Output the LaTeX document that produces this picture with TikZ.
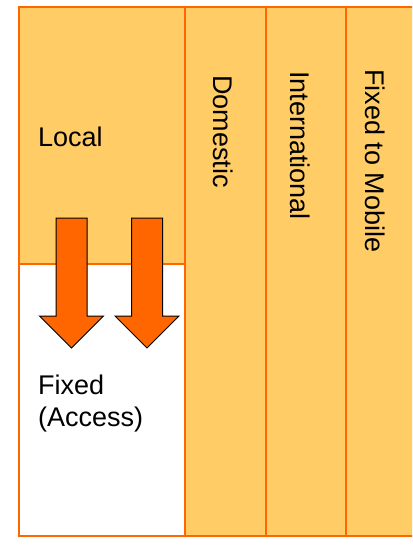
\documentclass[tikz,border=0pt]{standalone}
\usepackage{fontspec}
\setmainfont{Liberation Sans}
\usetikzlibrary{positioning}
\definecolor{Pale}{HTML}{FFCC66}
\definecolor{Edge}{HTML}{FF6600}
\definecolor{Push}{HTML}{FF6600}
\tikzset{
  cell/.style={draw=Edge,line width=2pt},
  lbl/.style={inner sep=0pt,font=\fontsize{27}{32}\selectfont},
  side/.style={lbl,rotate=-90,anchor=base west},
  push/.style={draw=black,fill=Push,line width=1pt,line join=miter}
}
\begin{document}
\begin{tikzpicture}[x=1pt,y=-1pt]
        \useasboundingbox(0,0)rectangle(412,548);
        \clip(0,0)rectangle(412,548);
        \draw[cell,fill=Pale](19,7)rectangle(185,264);
        \draw[cell,fill=white](19,264)rectangle(185,536);
        \draw[cell,fill=Pale](185,7)rectangle(266,536);
        \draw[cell,fill=Pale](266,7)rectangle(346,536);
        \draw[cell,fill=Pale](346,7)rectangle(440,536);
        % two arrows from Local down into Fixed
        \foreach \c in {71.5,147}
          \draw[push](\c-15.5,218)--(\c+15.5,218)--(\c+15.5,316)--(\c+32,316)
            --(\c,348)--(\c-32,316)--(\c-15.5,316)--cycle;
        \node[lbl,anchor=base west](local)at(38,147){Local};
        \node[lbl,anchor=north west,align=left](fixed)at(38,375){Fixed\\(Access)};
        \node[side](dom)at(213,75){Domestic};
        \node[side](intl)at(290,71){International};
        \node[side](mob)at(365,69){Fixed to Mobile};
      \end{tikzpicture}
\end{document}
